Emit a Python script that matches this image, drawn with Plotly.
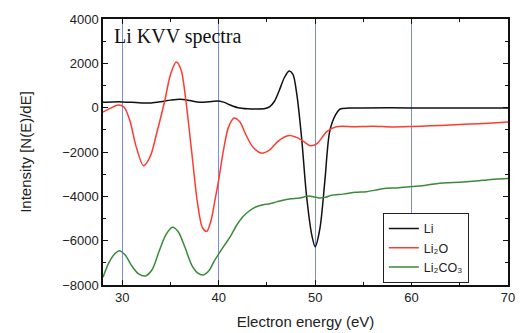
import plotly.graph_objects as go

# ---- data ----
li_x = [28.0, 29.0, 30.0, 31.0, 32.0, 33.0, 34.0, 35.0, 36.0, 37.0, 38.0, 39.0, 39.8, 40.5,
        41.2, 42.0, 43.0, 44.0, 44.8, 45.3, 45.8, 46.3, 46.8, 47.3, 47.7, 48.1, 48.6, 49.1,
        49.65, 50.0, 50.5, 51.0, 51.5, 52.1, 52.6, 53.5, 55.0, 60.0, 65.0, 70.0]
li_y = [250, 260, 260, 240, 210, 215, 270, 340, 380, 320, 240, 270, 300, 250,
        120, 0, -50, -60, -40, 50, 300, 800, 1350, 1650, 1500, 600, -1380, -3940,
        -5740, -6270, -5440, -3340, -1090, -340, -60, -20, -10, -10, -10, -10]

li2o_x = [28.0, 28.8, 29.6, 30.2, 30.8, 31.4, 32.2, 32.9, 33.6, 34.4, 35.0, 35.6, 36.1, 36.6,
          37.2, 37.8, 38.3, 38.75, 39.2, 39.6, 40.0, 40.5, 41.0, 41.6, 42.2, 42.8, 43.5, 44.4,
          45.3, 46.2, 47.3, 48.0, 48.6, 49.5, 50.2, 51.2, 52.2, 54.0, 56.0, 58.0, 60.0, 62.0,
          64.0, 66.0, 68.0, 70.0]
li2o_y = [-200, -20, 120, 20, -600, -1700, -2620, -2200, -1100, 300, 1500, 2060, 1700, 300,
          -2000, -4300, -5400, -5590, -5100, -4200, -3250, -1900, -900, -470, -650, -1200, -1750, -2050,
          -1900, -1500, -1260, -1330, -1460, -1720, -1620, -1080, -860, -860, -840, -870, -850, -820,
          -780, -740, -700, -650]

li2co3_x = [28.0, 28.6, 29.2, 29.7, 30.3, 31.0, 31.7, 32.4, 33.1, 33.8, 34.5, 35.2, 35.8, 36.5,
            37.2, 37.8, 38.4, 39.0, 39.5, 40.0, 40.6, 41.2, 41.8, 42.5, 43.2, 43.9, 44.6, 45.3,
            46.0, 46.9, 47.5, 48.4, 49.3, 50.4, 51.1, 51.7, 52.9, 54.2, 55.3, 56.5, 57.4, 58.5,
            60.0, 61.5, 62.9, 64.3, 65.7, 67.0, 67.8, 69.0, 70.0]
li2co3_y = [-7650, -7000, -6600, -6450, -6650, -7150, -7500, -7590, -7300, -6500, -5750, -5400, -5600, -6300,
            -7100, -7450, -7550, -7350, -6950, -6600, -6200, -5820, -5350, -4920, -4650, -4470, -4380, -4330,
            -4250, -4150, -4110, -4080, -3990, -4070, -4040, -3950, -3900, -3820, -3790, -3700, -3640, -3620,
            -3560, -3500, -3410, -3380, -3340, -3300, -3260, -3220, -3190]

series_names = ["Li", "Li₂O", "Li₂CO₃"]
x_ticks = [30, 40, 50, 60, 70]
y_ticks = [-8000, -6000, -4000, -2000, 0, 2000, 4000]

fig = go.Figure()
for xs, ys, name, color in [
    (li_x, li_y, series_names[0], "#111111"),
    (li2o_x, li2o_y, series_names[1], "#ff3b2f"),
    (li2co3_x, li2co3_y, series_names[2], "#3a8a3a"),
]:
    fig.add_trace(go.Scatter(x=xs, y=ys, mode="lines", name=name,
                             line=dict(color=color, width=1.5, shape="spline", smoothing=0.8)))

fig.update_layout(
    width=524, height=333,
    margin=dict(l=103, r=16, t=19, b=48),
    plot_bgcolor="white", paper_bgcolor="white",
    font=dict(family="Liberation Sans, Arial, sans-serif", size=13, color="#222222"),
    showlegend=True,
    legend=dict(x=0.691, y=0.271, xanchor="left", yanchor="top",
                bgcolor="white", bordercolor="#222222", borderwidth=1,
                font=dict(family="Liberation Sans, DejaVu Sans, sans-serif", size=12.5, color="#222222"),
                tracegroupgap=0, itemwidth=30),
    annotations=[dict(text="Li KVV spectra", xref="paper", yref="paper", x=0.022, y=0.985,
                      xanchor="left", yanchor="top", showarrow=False,
                      font=dict(family="Liberation Serif, Times New Roman, serif", size=20, color="#111111"))],
)
fig.update_xaxes(range=[28, 70], tickvals=x_ticks, showgrid=True, gridcolor="#7a8ee6", gridwidth=1,
                 zeroline=False, showline=True, linecolor="#111111", linewidth=1.5, mirror="ticks",
                 ticks="inside", ticklen=5, tickcolor="#111111", automargin=False,
                 minor=dict(ticks="inside", ticklen=3, dtick=5, tick0=0, tickcolor="#111111",
                            showgrid=False),
                 title=dict(text="Electron energy (eV)", font=dict(size=15), standoff=12))
fig.update_yaxes(range=[-8000, 4000], tickvals=y_ticks, showgrid=False, zeroline=False,
                 showline=True, linecolor="#111111", linewidth=1.5, mirror="ticks",
                 ticks="inside", ticklen=5, tickcolor="#111111", automargin=False,
                 minor=dict(ticks="inside", ticklen=3, dtick=1000, tick0=0, tickcolor="#111111",
                            showgrid=False),
                 title=dict(text="Intensity [N(E)/dE]", font=dict(size=15), standoff=27))

fig.write_html("out.html")
